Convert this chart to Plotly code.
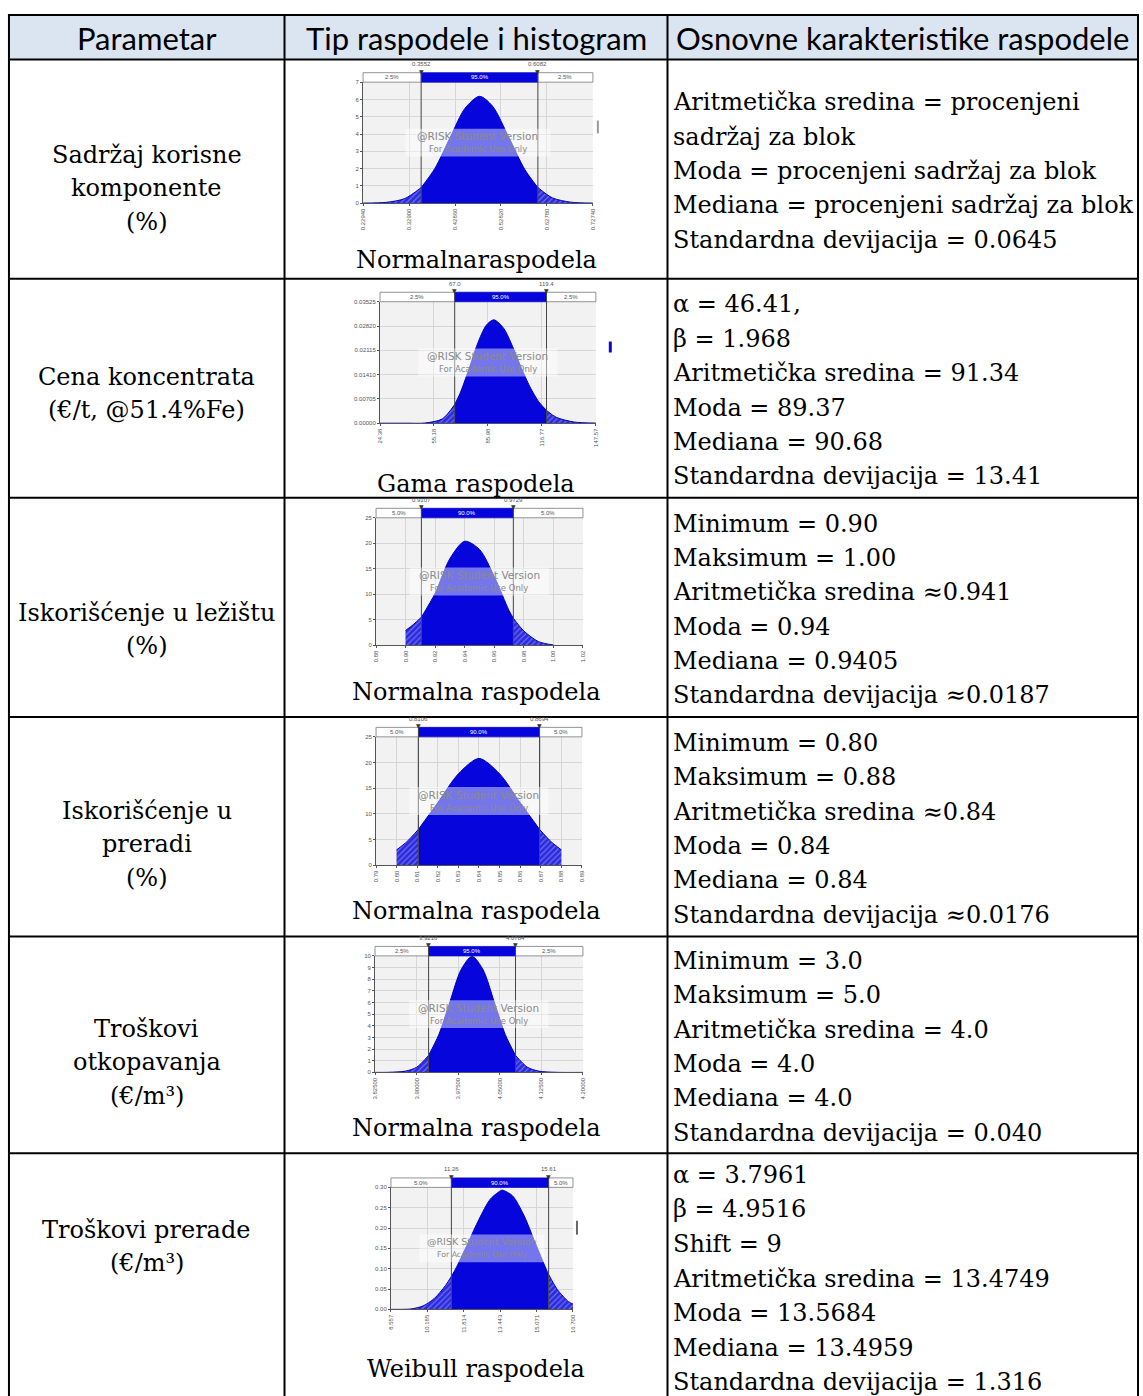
import plotly.graph_objects as go

W, H = 1143, 1396

# ---------------- table text ----------------
header = ["Parametar", "Tip raspodele i histogram", "Osnovne karakteristike raspodele"]
parametri = [
    ["Sadržaj korisne", "komponente", "(%)"],
    ["Cena koncentrata", "(€/t, @51.4%Fe)"],
    ["Iskorišćenje u ležištu", "(%)"],
    ["Iskorišćenje u", "preradi", "(%)"],
    ["Troškovi", "otkopavanja", "(€/m³)"],
    ["Troškovi prerade", "(€/m³)"],
]
tipovi = ["Normalnaraspodela", "Gama raspodela", "Normalna raspodela",
          "Normalna raspodela", "Normalna raspodela", "Weibull raspodela"]
karakteristike = [
    ["Aritmetička sredina = procenjeni", "sadržaj za blok", "Moda = procenjeni sadržaj za blok",
     "Mediana = procenjeni sadržaj za blok", "Standardna devijacija = 0.0645"],
    ["α = 46.41,", "β = 1.968", "Aritmetička sredina = 91.34", "Moda = 89.37",
     "Mediana = 90.68", "Standardna devijacija = 13.41"],
    ["Minimum = 0.90", "Maksimum = 1.00", "Aritmetička sredina ≈0.941", "Moda = 0.94",
     "Mediana = 0.9405", "Standardna devijacija ≈0.0187"],
    ["Minimum = 0.80", "Maksimum = 0.88", "Aritmetička sredina ≈0.84", "Moda = 0.84",
     "Mediana = 0.84", "Standardna devijacija ≈0.0176"],
    ["Minimum = 3.0", "Maksimum = 5.0", "Aritmetička sredina = 4.0", "Moda = 4.0",
     "Mediana = 4.0", "Standardna devijacija = 0.040"],
    ["α = 3.7961", "β = 4.9516", "Shift = 9", "Aritmetička sredina = 13.4749",
     "Moda = 13.5684", "Mediana = 13.4959", "Standardna devijacija = 1.316"],
]

p1_x = [0.2294, 0.28, 0.32, 0.3552, 0.385, 0.42, 0.45, 0.4817, 0.51, 0.545, 0.58, 0.6082, 0.64, 0.68, 0.7274]
p1_y = [0.003, 0.047, 0.267, 0.90, 2.01, 3.91, 5.48, 6.18, 5.61, 3.82, 1.94, 0.90, 0.30, 0.055, 0.004]
p1_xticks = [0.2294, 0.3290, 0.4286, 0.5282, 0.6278, 0.7274]
p1_xlabels = ["0.22940", "0.32900", "0.42860", "0.52820", "0.62780", "0.72740"]
p1_yticks = [0, 1, 2, 3, 4, 5, 6, 7]
p1_ylabels = ["0", "1", "2", "3", "4", "5", "6", "7"]
p1_marks = [0.3552, 0.6082]
p1_mark_labels = ["0.3552", "0.6082"]
p1_pct = ["2.5%", "95.0%", "2.5%"]

p2_x = [24.38, 40, 50, 60, 67.0, 70, 75, 80, 85, 89.37, 95, 100, 105, 110, 115, 119.4, 125, 135, 147.57]
p2_y = [0.0, 0.000001, 0.00005, 0.00126, 0.00543, 0.0086, 0.0155, 0.0230, 0.0284, 0.0300,
        0.0275, 0.0223, 0.0161, 0.0105, 0.0062, 0.0037, 0.0017, 0.00035, 0.00003]
p2_xticks = [24.38, 55.18, 85.98, 116.77, 147.57]
p2_xlabels = ["24.38", "55.18", "85.98", "116.77", "147.57"]
p2_yticks = [0, 0.00705, 0.01410, 0.02115, 0.02820, 0.03525]
p2_ylabels = ["0.00000", "0.00705", "0.01410", "0.02115", "0.02820", "0.03525"]
p2_marks = [67.0, 119.4]
p2_mark_labels = ["67.0", "119.4"]
p2_pct = ["2.5%", "95.0%", "2.5%"]

p3_x = [0.90, 0.905, 0.9107, 0.92, 0.93, 0.94, 0.95, 0.96, 0.97, 0.9729, 0.98, 0.99, 1.00]
p3_y = [2.9, 4.0, 5.5, 10.2, 17.0, 20.4, 18.8, 13.5, 6.8, 5.3, 2.8, 0.7, 0.05]
p3_xticks = [0.88, 0.90, 0.92, 0.94, 0.96, 0.98, 1.00, 1.02]
p3_xlabels = ["0.88", "0.90", "0.92", "0.94", "0.96", "0.98", "1.00", "1.02"]
p3_yticks = [0, 5, 10, 15, 20, 25]
p3_ylabels = ["0", "5", "10", "15", "20", "25"]
p3_marks = [0.9107, 0.9729]
p3_mark_labels = ["0.9107", "0.9729"]
p3_pct = ["5.0%", "90.0%", "5.0%"]

p4_x = [0.80, 0.805, 0.8106, 0.82, 0.83, 0.84, 0.85, 0.86, 0.8694, 0.875, 0.88]
p4_y = [3.0, 4.6, 7.0, 12.2, 17.8, 20.8, 17.8, 12.2, 7.0, 4.6, 3.0]
p4_xticks = [0.79, 0.80, 0.81, 0.82, 0.83, 0.84, 0.85, 0.86, 0.87, 0.88, 0.89]
p4_xlabels = ["0.79", "0.80", "0.81", "0.82", "0.83", "0.84", "0.85", "0.86", "0.87", "0.88", "0.89"]
p4_yticks = [0, 5, 10, 15, 20, 25]
p4_ylabels = ["0", "5", "10", "15", "20", "25"]
p4_marks = [0.8106, 0.8694]
p4_mark_labels = ["0.8106", "0.8694"]
p4_pct = ["5.0%", "90.0%", "5.0%"]

p5_x = [3.825, 3.85, 3.88, 3.90, 3.9216, 3.94, 3.96, 3.98, 4.00, 4.02, 4.04, 4.06, 4.0784, 4.10, 4.12, 4.15, 4.20]
p5_y = [0.0001, 0.009, 0.11, 0.44, 1.46, 3.24, 6.05, 8.80, 9.97, 8.80, 6.05, 3.24, 1.46, 0.44, 0.11, 0.009, 0.0001]
p5_xticks = [3.825, 3.900, 3.975, 4.050, 4.125, 4.200]
p5_xlabels = ["3.82500", "3.90000", "3.97500", "4.05000", "4.12500", "4.20000"]
p5_yticks = [0, 1, 2, 3, 4, 5, 6, 7, 8, 9, 10]
p5_ylabels = ["0", "1", "2", "3", "4", "5", "6", "7", "8", "9", "10"]
p5_marks = [3.9216, 4.0784]
p5_mark_labels = ["3.9216", "4.0784"]
p5_pct = ["2.5%", "95.0%", "2.5%"]

p6_x = [8.557, 9.0, 9.5, 10.0, 10.5, 11.0, 11.26, 11.5, 12.0, 12.5, 13.0, 13.5, 13.57,
        14.0, 14.5, 15.0, 15.5, 15.61, 16.0, 16.5, 16.7]
p6_y = [0.0, 0.0, 0.0013, 0.0087, 0.027, 0.059, 0.081, 0.105, 0.163, 0.222, 0.271, 0.293, 0.293,
        0.279, 0.232, 0.165, 0.099, 0.086, 0.049, 0.019, 0.013]
p6_xticks = [8.557, 10.185, 11.814, 13.443, 15.071, 16.700]
p6_xlabels = ["8.557", "10.185", "11.814", "13.443", "15.071", "16.700"]
p6_yticks = [0, 0.05, 0.10, 0.15, 0.20, 0.25, 0.30]
p6_ylabels = ["0.00", "0.05", "0.10", "0.15", "0.20", "0.25", "0.30"]
p6_marks = [11.26, 15.61]
p6_mark_labels = ["11.26", "15.61"]
p6_pct = ["5.0%", "90.0%", "5.0%"]

plots = [
    dict(x=p1_x, y=p1_y, xt=p1_xticks, xl=p1_xlabels, yt=p1_yticks, yl=p1_ylabels, m=p1_marks, ml=p1_mark_labels, pct=p1_pct),
    dict(x=p2_x, y=p2_y, xt=p2_xticks, xl=p2_xlabels, yt=p2_yticks, yl=p2_ylabels, m=p2_marks, ml=p2_mark_labels, pct=p2_pct),
    dict(x=p3_x, y=p3_y, xt=p3_xticks, xl=p3_xlabels, yt=p3_yticks, yl=p3_ylabels, m=p3_marks, ml=p3_mark_labels, pct=p3_pct),
    dict(x=p4_x, y=p4_y, xt=p4_xticks, xl=p4_xlabels, yt=p4_yticks, yl=p4_ylabels, m=p4_marks, ml=p4_mark_labels, pct=p4_pct),
    dict(x=p5_x, y=p5_y, xt=p5_xticks, xl=p5_xlabels, yt=p5_yticks, yl=p5_ylabels, m=p5_marks, ml=p5_mark_labels, pct=p5_pct),
    dict(x=p6_x, y=p6_y, xt=p6_xticks, xl=p6_xlabels, yt=p6_yticks, yl=p6_ylabels, m=p6_marks, ml=p6_mark_labels, pct=p6_pct),
]

# ---------------- layout geometry (pixels) ----------------
TOP = 12
LEFT, C1, C2, RIGHT = 6, 283, 668, 1141
ROW_EDGES = [56.7, 277, 497, 717, 937.5, 1155.3, 1402]
PLOT_BOX = [(362, 593, 79.5, 201), (379, 596, 300, 422), (375, 583, 517, 645),
            (375, 582, 737, 866), (374, 583, 957, 1074), (390, 573, 1189.5, 1312)]
LABEL_Y = [258, 483, 692, 912, 1130, 1372]
COL1_CENTER = [186, 392, 629, 845, 1064, 1249]
WM_HALF = [73, 70, 70, 70, 70, 63]
LINE_H = 34.5

BLUE = "#0606dc"
BLUE_LINE = "#0000c0"
TAIL_BG = "#2a2ae0"
TAIL_FG = "#b4b4f4"
GRID = "#d6d6d6"
AXIS = "#555555"
SERIF = "DejaVu Serif"
SANS = "Lato"
TINY = "Liberation Sans"


def fx(px):
    return px / W


def fy(py):
    return 1 - py / H


fig = go.Figure()
shapes = []
ann = []

# header background
shapes.append(dict(type="rect", xref="paper", yref="paper", x0=fx(LEFT), x1=fx(RIGHT),
                   y0=fy(ROW_EDGES[0]), y1=fy(TOP), fillcolor="#dbe5f1", line_width=0, layer="below"))
# table borders
for yy in [TOP] + ROW_EDGES[:-1]:
    shapes.append(dict(type="line", xref="paper", yref="paper", x0=fx(LEFT - 1), x1=fx(RIGHT + 1),
                       y0=fy(yy), y1=fy(yy), line=dict(color="black", width=2)))
for xx in [LEFT, C1, C2, RIGHT]:
    shapes.append(dict(type="line", xref="paper", yref="paper", x0=fx(xx), x1=fx(xx),
                       y0=fy(TOP - 1), y1=fy(H + 10), line=dict(color="black", width=2)))

# header text
for txt, (a, b) in zip(header, [(LEFT, C1), (C1, C2), (C2, RIGHT)]):
    ann.append(dict(text=txt, x=fx((a + b) / 2), y=fy((TOP + ROW_EDGES[0]) / 2 + 1), xref="paper", yref="paper",
                    showarrow=False, xanchor="center", yanchor="middle",
                    font=dict(family=SANS, size=31, color="black")))

# body text
for r in range(6):
    top, bot = ROW_EDGES[r], ROW_EDGES[r + 1]
    cen = (top + bot) / 2
    lines = parametri[r]
    for k, t in enumerate(lines):
        yy = COL1_CENTER[r] + (k - (len(lines) - 1) / 2) * 33.5
        ann.append(dict(text=t, x=fx((LEFT + C1) / 2), y=fy(yy), xref="paper", yref="paper", showarrow=False,
                        xanchor="center", yanchor="middle", font=dict(family=SERIF, size=24, color="black")))
    ann.append(dict(text=tipovi[r], x=fx((C1 + C2) / 2), y=fy(LABEL_Y[r]), xref="paper", yref="paper",
                    showarrow=False, xanchor="center", yanchor="middle",
                    font=dict(family=SERIF, size=24, color="black")))
    lines = karakteristike[r]
    if r < 5:
        ys = [cen + 2 + (k - (len(lines) - 1) / 2) * LINE_H for k in range(len(lines))]
    else:
        ys = [1177 + k * 34.7 for k in range(len(lines))]
    for t, yy in zip(lines, ys):
        ann.append(dict(text=t, x=fx(C2 + 4), y=fy(yy), xref="paper", yref="paper", showarrow=False,
                        xanchor="left", yanchor="middle", font=dict(family=SERIF, size=24, color="black")))

# ---------------- mini density plots ----------------
axes_layout = {}
for i, p in enumerate(plots):
    n = i + 1
    sfx = "" if n == 1 else str(n)
    xa, ya = "x" + sfx, "y" + sfx
    L, R, T, B = PLOT_BOX[i]
    pw, ph = R - L, B - T
    m0, m1 = p["m"]
    pts = list(zip(p["x"], p["y"]))
    segs = [([q for q in pts if q[0] <= m0], False),
            ([q for q in pts if m0 <= q[0] <= m1], True),
            ([q for q in pts if q[0] >= m1], False)]
    for seg, solid in segs:
        sx = [a for a, _ in seg]
        sy = [b for _, b in seg]
        kw = dict(fillcolor=BLUE) if solid else dict(
            fillcolor=TAIL_BG,
            fillpattern=dict(shape="/", bgcolor=TAIL_BG, fgcolor=TAIL_FG, size=4, solidity=0.3))
        fig.add_trace(go.Scatter(x=sx, y=sy, xaxis=xa, yaxis=ya, mode="lines",
                                 line=dict(color=BLUE_LINE, width=1, shape="spline", smoothing=0.8),
                                 fill="tozeroy", hoverinfo="skip", showlegend=False, **kw))

    tickfont = dict(family=TINY, size=6, color="#555")
    axes_layout["xaxis" + sfx] = dict(domain=[fx(L), fx(R)], anchor=ya, range=[p["xt"][0], p["xt"][-1]],
                                      tickvals=p["xt"], ticktext=p["xl"], tickangle=-90, tickfont=tickfont,
                                      showgrid=True, gridcolor=GRID, gridwidth=0.6, showline=True,
                                      linecolor=AXIS, linewidth=1, ticks="outside", ticklen=2,
                                      tickcolor=AXIS, zeroline=False, fixedrange=True)
    axes_layout["yaxis" + sfx] = dict(domain=[fy(B), fy(T)], anchor=xa, range=[p["yt"][0], p["yt"][-1]],
                                      tickvals=p["yt"], ticktext=p["yl"], tickfont=tickfont,
                                      showgrid=True, gridcolor=GRID, gridwidth=0.6, showline=True,
                                      linecolor=AXIS, linewidth=1, ticks="outside", ticklen=2,
                                      tickcolor=AXIS, zeroline=False, fixedrange=True)

    xd, yd = xa + " domain", ya + " domain"
    bf = 9.5 / ph
    shapes.append(dict(type="rect", xref=xd, yref=yd, x0=0, x1=1, y0=1, y1=1 + bf,
                       fillcolor="white", line=dict(color="#777", width=0.8)))
    shapes.append(dict(type="rect", xref=xa, yref=yd, x0=m0, x1=m1, y0=1, y1=1 + bf,
                       fillcolor=BLUE, line=dict(color=BLUE, width=0.5)))
    for mv in (m0, m1):
        shapes.append(dict(type="line", xref=xa, yref=yd, x0=mv, x1=mv, y0=0, y1=1 + bf,
                           line=dict(color="#444", width=1)))
    xmin, xmax = p["xt"][0], p["xt"][-1]
    for txt, xc, col in zip(p["pct"], [(xmin + m0) / 2, (m0 + m1) / 2, (m1 + xmax) / 2], ["#555", "white", "#555"]):
        ann.append(dict(text=txt, x=xc, y=1 + bf / 2, xref=xa, yref=yd, showarrow=False,
                        xanchor="center", yanchor="middle", font=dict(family=TINY, size=6, color=col)))
    for mv, ml in zip(p["m"], p["ml"]):
        ann.append(dict(text="▼", x=mv, y=1 + bf + 1.5 / ph, xref=xa, yref=yd, showarrow=False,
                        xanchor="center", yanchor="middle", font=dict(family="DejaVu Sans", size=6, color="#333")))
        ann.append(dict(text=ml, x=mv, y=1 + bf + 8.5 / ph, xref=xa, yref=yd, showarrow=False,
                        xanchor="center", yanchor="middle", font=dict(family=TINY, size=6, color="#555")))
    hw = WM_HALF[i]
    shapes.append(dict(type="rect", xref=xd, yref=yd, x0=0.5 - hw / pw, x1=0.5 + hw / pw,
                       y0=0.5 - 14 / ph, y1=0.5 + 14 / ph, fillcolor="rgba(255,255,255,0.45)", line_width=0))
    s1, s2 = (10.5, 8.5) if i < 5 else (9.5, 7.8)
    ann.append(dict(text="@RISK Student Version", x=0.5, y=0.5 + 6.5 / ph, xref=xd, yref=yd, showarrow=False,
                    xanchor="center", yanchor="middle", font=dict(family="DejaVu Sans", size=s1, color="#8a8a8a")))
    ann.append(dict(text="For Academic Use Only", x=0.5, y=0.5 - 6.5 / ph, xref=xd, yref=yd, showarrow=False,
                    xanchor="center", yanchor="middle", font=dict(family="DejaVu Sans", size=s2, color="#8a8a8a")))

for (x0, x1, y0, y1, col) in [(597, 599, 118, 131, "#9a9a9a"), (609, 612, 340, 351, BLUE), (576, 578, 1223, 1237, "#666")]:
    shapes.append(dict(type="rect", xref="paper", yref="paper", x0=fx(x0), x1=fx(x1), y0=fy(y1), y1=fy(y0),
                       fillcolor=col, line_width=0))

fig.update_layout(width=W, height=H, margin=dict(l=0, r=0, t=0, b=0), paper_bgcolor="white",
                  plot_bgcolor="#f2f2f2", showlegend=False, shapes=shapes, annotations=ann, **axes_layout)

fig.write_html("out.html", config={"displayModeBar": False},
               post_script="document.body.style.margin='0';")
